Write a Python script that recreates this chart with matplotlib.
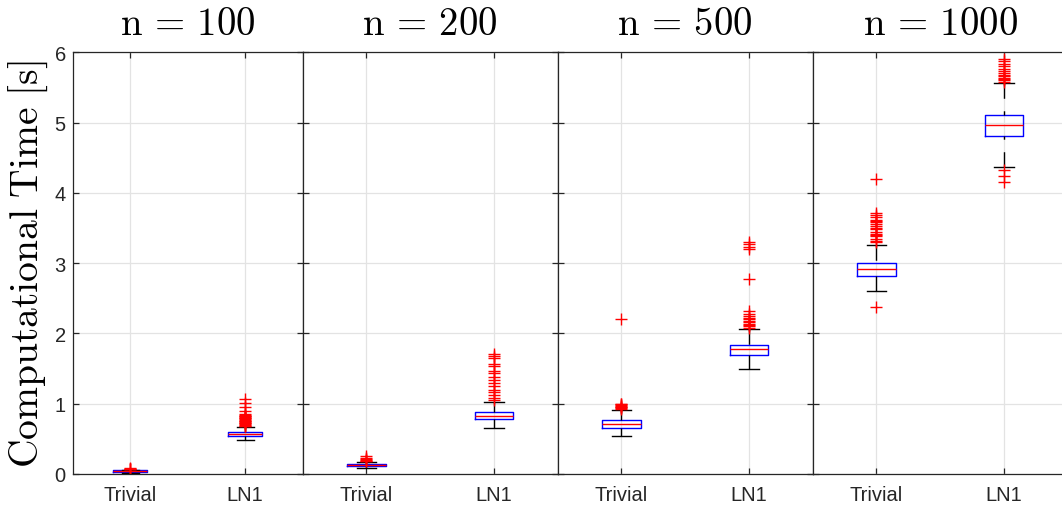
import matplotlib
matplotlib.use('Agg')
import matplotlib.pyplot as plt

plt.rcParams['mathtext.fontset'] = 'cm'
plt.rcParams['font.family'] = ['Liberation Sans', 'DejaVu Sans']

# Problem sizes and methods
sizes = [100, 200, 500, 1000]
methods = ['Trivial', 'LN1']

# Box statistics for the Trivial method (one entry per problem size)
trivial_q1 = [0.030, 0.110, 0.655, 2.822]
trivial_med = [0.040, 0.128, 0.707, 2.917]
trivial_q3 = [0.050, 0.142, 0.764, 3.002]
trivial_lo = [0.020, 0.090, 0.545, 2.610]
trivial_hi = [0.060, 0.167, 0.915, 3.263]
trivial_fliers = [
    [0.065, 0.07, 0.075, 0.08],
    [0.18, 0.19, 0.20, 0.21, 0.23, 0.25],
    [0.93, 0.94, 0.95, 0.96, 0.97, 0.98, 0.99, 1.00, 2.20],
    [2.37, 3.30, 3.32, 3.35, 3.38, 3.40, 3.42, 3.45, 3.48, 3.50, 3.53,
     3.55, 3.58, 3.60, 3.62, 3.65, 3.68, 3.72, 4.20],
]

# Box statistics for the LN1 method
ln1_q1 = [0.536, 0.778, 1.700, 4.814]
ln1_med = [0.565, 0.830, 1.775, 4.966]
ln1_q3 = [0.593, 0.878, 1.840, 5.113]
ln1_lo = [0.480, 0.655, 1.494, 4.373]
ln1_hi = [0.670, 1.020, 2.063, 5.560]
ln1_fliers = [
    [0.68, 0.69, 0.70, 0.715, 0.72, 0.73, 0.745, 0.75, 0.76, 0.77, 0.785,
     0.79, 0.80, 0.81, 0.825, 0.83, 0.84, 0.85, 0.89, 0.95, 1.01, 1.06],
    [1.05, 1.08, 1.12, 1.16, 1.20, 1.25, 1.30, 1.34, 1.38, 1.43, 1.47,
     1.54, 1.57, 1.65, 1.68, 1.71],
    [2.08, 2.10, 2.12, 2.14, 2.16, 2.18, 2.20, 2.22, 2.25, 2.28, 2.32,
     2.78, 3.20, 3.23, 3.27, 3.30],
    [4.16, 4.24, 4.33, 5.58, 5.60, 5.62, 5.64, 5.66, 5.68, 5.70, 5.73,
     5.76, 5.80, 5.83, 5.87, 5.91],
]

W, H = 1062, 510
fig = plt.figure(figsize=(W / 100, H / 100), dpi=100)

top_px, bottom_px = 53.3, 475.0
lefts = [72.7, 302.7, 557.7, 812.7]
rights = [302.7, 557.7, 812.7, 1067.7]
axis_col = '#262626'

for i, n in enumerate(sizes):
    ax = fig.add_axes([lefts[i] / W, (H - bottom_px) / H,
                       (rights[i] - lefts[i]) / W, (bottom_px - top_px) / H])
    stats = [
        dict(med=trivial_med[i], q1=trivial_q1[i], q3=trivial_q3[i],
             whislo=trivial_lo[i], whishi=trivial_hi[i], fliers=trivial_fliers[i]),
        dict(med=ln1_med[i], q1=ln1_q1[i], q3=ln1_q3[i],
             whislo=ln1_lo[i], whishi=ln1_hi[i], fliers=ln1_fliers[i]),
    ]
    parts = ax.bxp(
        stats, positions=[1, 2], widths=0.3, capwidths=0.15,
        boxprops=dict(color='blue', lw=1.0),
        medianprops=dict(color='red', lw=1.0),
        whiskerprops=dict(color='black', lw=1.0, linestyle=(0, (11, 9))),
        capprops=dict(color='black', lw=1.0),
        flierprops=dict(marker='+', markeredgecolor='red', markersize=9,
                        markeredgewidth=1.0, linestyle='none'),
    )
    # dashes start from the whisker cap
    for wline in parts['whiskers']:
        x, y = wline.get_data()
        wline.set_data(list(x)[::-1], list(y)[::-1])

    ax.set_xlim(0.5, 2.5)
    ax.set_ylim(0, 6)
    ax.set_yticks(range(7))
    ax.set_xticks([1, 2])
    ax.set_xticklabels(methods)
    ax.grid(True, color='#e3e3e3', lw=0.9)
    ax.set_axisbelow(True)
    ax.tick_params(direction='in', length=4, width=0.9, colors=axis_col,
                   labelsize=14.5, top=True, right=True, labelleft=(i == 0))
    ax.tick_params(axis='x', pad=8)
    ax.tick_params(axis='y', pad=5)
    for sp in ax.spines.values():
        sp.set_color(axis_col)
        sp.set_linewidth(0.9)
    ax.set_title(r'$\mathrm{n}\,=\,%d$' % n, fontsize=28, pad=13)
    if i == 0:
        ax.set_ylabel(r'$\mathrm{Computational\ Time\ [s]}$', fontsize=28.5,
                      labelpad=3)

fig.savefig('out.png', dpi=100)
